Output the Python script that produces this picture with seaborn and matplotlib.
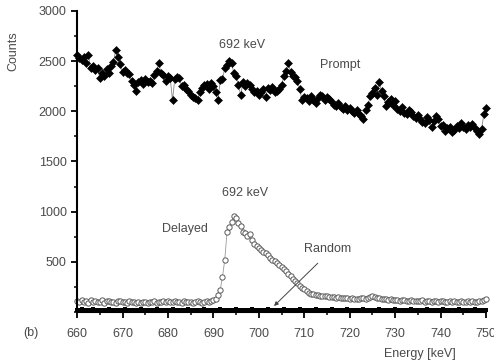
import numpy as np
import pandas as pd
import matplotlib
matplotlib.use("Agg")
import matplotlib.pyplot as plt
import seaborn as sns
from matplotlib.ticker import MultipleLocator, FixedLocator

sns.set_theme(style="ticks")
plt.rcParams['font.family'] = ['Liberation Sans', 'DejaVu Sans']

energy_start, energy_stop, energy_step = 660.0, 750.0, 0.5

prompt = [
    2560, 2530, 2510, 2540, 2480, 2560, 2430, 2450, 2410, 2430,
    2330, 2380, 2350, 2420, 2380, 2450, 2490, 2610, 2540, 2470,
    2390, 2410, 2380, 2370, 2300, 2260, 2200, 2290, 2310, 2270,
    2320, 2290, 2300, 2280, 2360, 2400, 2480, 2380, 2360, 2300,
    2350, 2330, 2110, 2320, 2340, 2330, 2250, 2260, 2220, 2200,
    2160, 2140, 2130, 2110, 2190, 2230, 2260, 2270, 2220, 2280,
    2250, 2190, 2110, 2310, 2320, 2430, 2460, 2500, 2480, 2380,
    2350, 2260, 2160, 2290, 2250, 2280, 2260, 2220, 2190, 2200,
    2160, 2190, 2220, 2140, 2230, 2210, 2240, 2190, 2200, 2220,
    2260, 2350, 2400, 2480, 2390, 2350, 2340, 2300, 2220, 2110,
    2140, 2130, 2100, 2150, 2110, 2080, 2130, 2160, 2150, 2110,
    2140, 2120, 2090, 2060, 2050, 2080, 2040, 2020, 2050, 2010,
    2030, 2000, 1980, 2010, 1970, 1950, 1920, 2010, 2060, 2150,
    2180, 2230, 2160, 2290, 2200, 2150, 2050, 2090, 2120, 2060,
    2100, 2020, 2000, 2040, 1980, 1970, 2010, 1990, 1950, 1930,
    1960, 1920, 1890, 1880, 1940, 1910, 1840, 1900, 1950, 1920,
    1850, 1860, 1800, 1830, 1840, 1790, 1810, 1850, 1830, 1880,
    1840, 1820, 1860, 1840, 1870, 1830, 1800, 1770, 1820, 1970,
    2030,
]

delayed = [
    110, 95, 120, 100, 105, 90, 115, 100, 110, 95,
    100, 115, 90, 105, 110, 95, 100, 90, 105, 110,
    95, 100, 85, 105, 100, 95, 90, 100, 85, 95,
    100, 90, 95, 100, 105, 90, 100, 95, 110, 100,
    105, 95, 100, 110, 95, 100, 90, 105, 100, 95,
    100, 90, 95, 105, 100, 90, 95, 110, 100, 105,
    115, 130, 170, 220, 350, 520, 800, 850, 900, 960,
    940, 890, 860, 800, 790, 760, 780, 720, 680, 660,
    640, 620, 600, 590, 570, 540, 520, 510, 490, 470,
    450, 430, 410, 380, 360, 330, 310, 290, 260, 240,
    230, 210, 190, 180, 175, 170, 165, 160, 155, 160,
    160, 150, 150, 145, 140, 150, 140, 135, 140, 135,
    130, 135, 130, 125, 130, 140, 135, 130, 140, 150,
    155, 150, 140, 135, 130, 125, 130, 120, 125, 115,
    120, 115, 110, 120, 115, 105, 110, 120, 110, 105,
    110, 105, 115, 100, 110, 105, 100, 110, 105, 100,
    105, 110, 100, 95, 105, 100, 110, 95, 100, 105,
    100, 95, 105, 100, 110, 100, 95, 105, 110, 120,
    130,
]

random_counts = [
    20, 15, 25, 18, 22, 15, 20, 25, 18, 20,
    22, 15, 20, 18, 25, 20, 15, 22, 20, 18,
    20, 25, 15, 20, 22, 18, 20, 15, 25, 20,
    18, 22, 20, 15, 20, 25, 18, 20, 22, 15,
    20, 18, 25, 20, 15, 22, 20, 18, 20, 25,
    15, 20, 22, 18, 20, 15, 25, 20, 18, 22,
    20, 15, 20, 25, 18, 20, 22, 15, 20, 18,
    25, 20, 15, 22, 20, 18, 20, 25, 15, 20,
    22, 18, 20, 15, 25, 20, 18, 22, 20, 15,
    20, 25, 18, 20, 22, 15, 20, 18, 25, 20,
    15, 22, 20, 18, 20, 25, 15, 20, 22, 18,
    20, 15, 25, 20, 18, 22, 20, 15, 20, 25,
    18, 20, 22, 15, 20, 18, 25, 20, 15, 22,
    20, 18, 20, 25, 15, 20, 22, 18, 20, 15,
    25, 20, 18, 22, 20, 15, 20, 25, 18, 20,
    22, 15, 20, 18, 25, 20, 15, 22, 20, 18,
    20, 25, 15, 20, 22, 18, 20, 15, 25, 20,
    18, 22, 20, 15, 20, 25, 18, 20, 22, 15,
    20,
]

energy = np.arange(energy_start, energy_stop + energy_step / 2, energy_step)
df = pd.DataFrame({"energy": energy, "prompt": prompt,
                   "delayed": delayed, "random": random_counts})

fig = plt.figure(figsize=(4.94, 3.64), dpi=100)
ax = fig.add_axes([0.156, 0.143, 0.828, 0.827])

sns.lineplot(data=df, x="energy", y="random", ax=ax, color="black", lw=1.2,
             marker="s", markersize=2.4, markeredgewidth=0, clip_on=False)
sns.lineplot(data=df, x="energy", y="delayed", ax=ax, color="#999999", lw=0.6,
             marker="o", markersize=3.8, markerfacecolor="white",
             markeredgecolor="#5a5a5a", markeredgewidth=0.7, clip_on=False)
sns.lineplot(data=df, x="energy", y="prompt", ax=ax, color="#888888", lw=0.6,
             marker="D", markersize=3.6, markerfacecolor="black",
             markeredgecolor="black", markeredgewidth=0.4, clip_on=False)

ax.set_xlim(660, 750)
ax.set_ylim(0, 3000)
ax.xaxis.set_major_locator(MultipleLocator(10))
ax.xaxis.set_minor_locator(MultipleLocator(5))
ax.yaxis.set_major_locator(FixedLocator([500, 1000, 1500, 2000, 2500, 3000]))
ax.yaxis.set_minor_locator(MultipleLocator(250))

sns.despine(ax=ax)
for s in ["left", "bottom"]:
    ax.spines[s].set_linewidth(1.5)
    ax.spines[s].set_color("black")

txtc = "#4a4a4a"
fs = 9
ax.tick_params(axis="both", which="major", direction="out", length=4.5, width=1.3,
               labelsize=fs, labelcolor=txtc, color="black")
ax.tick_params(axis="x", which="major", pad=7)
ax.tick_params(axis="y", which="major", pad=3)
ax.tick_params(axis="both", which="minor", direction="out", length=2.5, width=1.1,
               color="black")

ax.set_xlabel("")
ax.set_ylabel("")
fig.text(0.028, 0.86, "Counts", rotation=90, ha="center", va="center",
         fontsize=fs, color=txtc)
fig.text(0.850, 0.027, "Energy [keV]", ha="center", va="center",
         fontsize=fs, color=txtc)
fig.text(0.063, 0.085, "(b)", ha="center", va="center", fontsize=fs, color=txtc)

ax.text(696.3, 2660, "692 keV", ha="center", va="center", fontsize=fs, color=txtc)
ax.text(717.8, 2460, "Prompt", ha="center", va="center", fontsize=fs, color=txtc)
ax.text(697.0, 1190, "692 keV", ha="center", va="center", fontsize=fs, color=txtc)
ax.text(683.7, 830, "Delayed", ha="center", va="center", fontsize=fs, color=txtc)
ax.text(715.2, 625, "Random", ha="center", va="center", fontsize=fs, color=txtc)
ax.annotate("", xy=(702.9, 40), xytext=(713.4, 505),
            arrowprops=dict(arrowstyle="-|>", color="#444444", lw=0.7,
                            mutation_scale=6))

fig.savefig("out.png", dpi=100)
